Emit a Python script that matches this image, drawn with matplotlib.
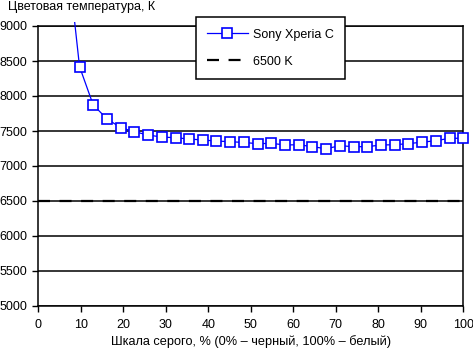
import matplotlib
matplotlib.use("Agg")
import matplotlib.pyplot as plt
from matplotlib.transforms import Bbox, TransformedBbox

plt.rcParams['font.family'] = ['Liberation Sans', 'DejaVu Sans']

# grey level, %
gray = [6.5, 9.7, 12.9, 16.1, 19.4, 22.6, 25.8, 29.0, 32.3, 35.5, 38.7,
        41.9, 45.2, 48.4, 51.6, 54.8, 58.1, 61.3, 64.5, 67.7, 71.0,
        74.2, 77.4, 80.6, 83.9, 87.1, 90.3, 93.5, 96.8, 100.0]
# colour temperature, K
temp = [10200, 8420, 7875, 7676, 7547, 7490, 7443, 7414, 7404, 7386, 7371,
        7357, 7347, 7336, 7319, 7324, 7300, 7304, 7276, 7247, 7290,
        7276, 7276, 7300, 7304, 7320, 7340, 7361, 7396, 7396]
ref_x = [0, 100]
ref_y = [6500, 6500]

xticks = list(range(0, 101, 10))
yticks = list(range(5000, 9001, 500))

fig = plt.figure(figsize=(4.73, 3.49), dpi=100, facecolor='w')
ax = fig.add_axes([38.3 / 473, 43 / 349, 425 / 473, 280 / 349])

for y in yticks:
    ax.axhline(y, color='black', lw=1.1, zorder=1)

line, = ax.plot(gray, temp, color='#0000ff', lw=0.9, marker='s', markersize=7.2,
                markerfacecolor='white', markeredgecolor='#0000ff',
                markeredgewidth=1.2, label='Sony Xperia C', zorder=3)
# let the curve run a little past the frame, as in the original
line.set_clip_box(TransformedBbox(Bbox([[-0.03, -0.03], [1.03, 1.016]]),
                                  ax.transAxes))
ref, = ax.plot(ref_x, ref_y, color='black', lw=1.6, label='6500 K', zorder=2)
ref.set_dashes((5.4, 4.3))

ax.set_xlim(0, 100)
ax.set_ylim(5000, 9000)
ax.set_xticks(xticks)
ax.set_yticks(yticks)
ax.tick_params(direction='out', length=4, width=1, colors='black',
               labelsize=9)
ax.tick_params(axis='x', pad=5)
ax.tick_params(axis='y', pad=4)
for s in ax.spines.values():
    s.set_color('black')
    s.set_linewidth(1.1)

ax.set_xlabel('Шкала серого, % (0% – черный, 100% – белый)', fontsize=9.2,
              labelpad=3)
fig.text(8 / 473, 1 - 7 / 349, 'Цветовая температура, К', fontsize=9,
         ha='left', va='center')

leg = ax.legend(loc='upper left', bbox_to_anchor=(0.37, 1.031),
                borderaxespad=0, fontsize=9, frameon=True, fancybox=False,
                handlelength=3.3, handletextpad=0.4, labelspacing=1.2,
                borderpad=0.9)
leg.get_frame().set_edgecolor('black')
leg.get_frame().set_linewidth(1.1)
leg.get_frame().set_alpha(1)

fig.savefig('out.png', dpi=100)
